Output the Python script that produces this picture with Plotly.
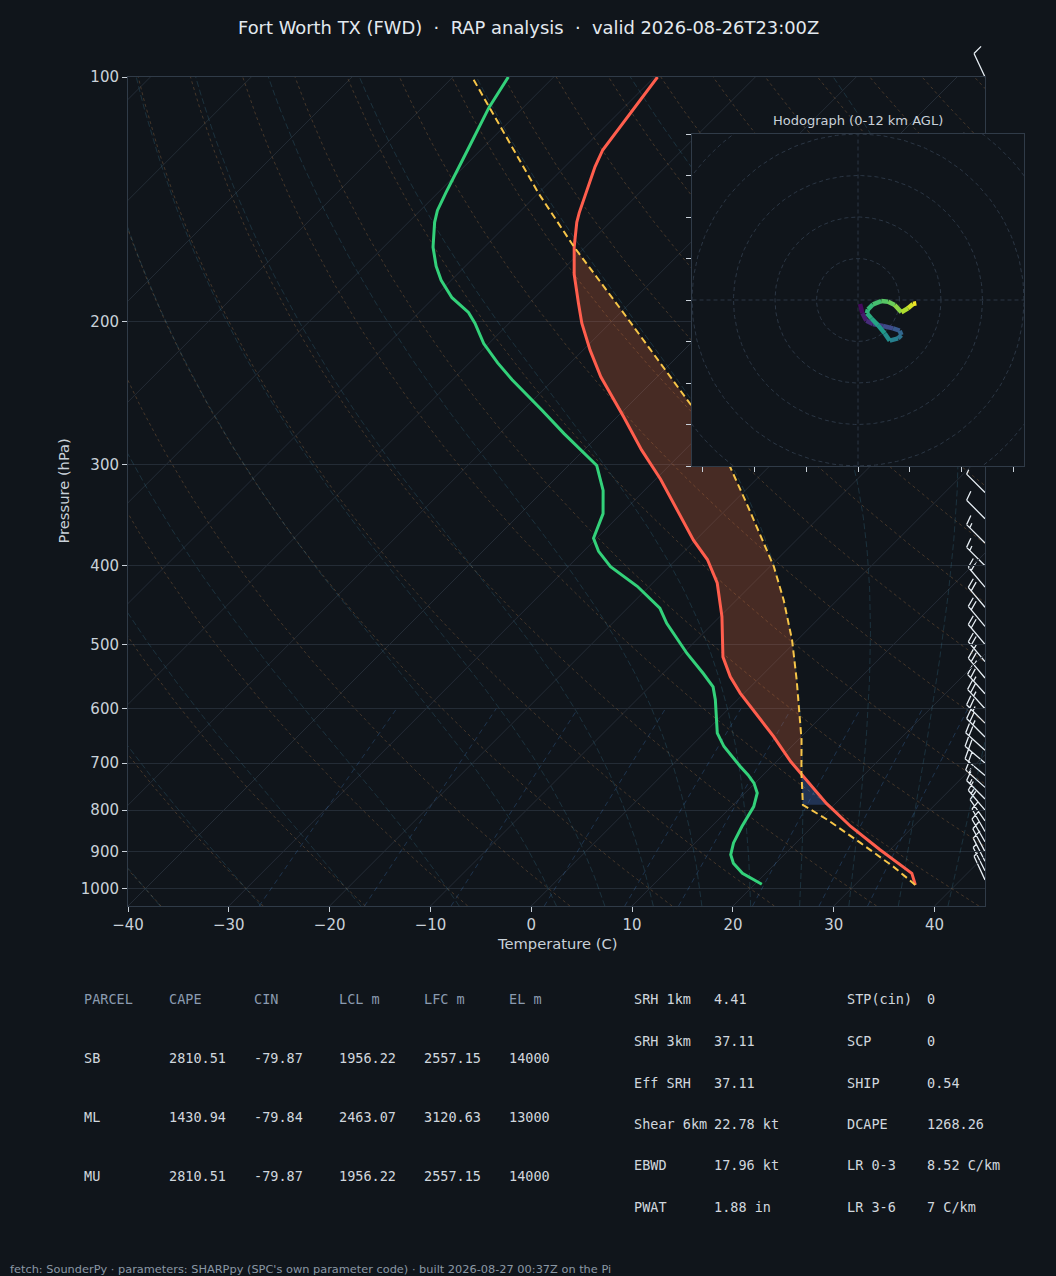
import numpy as np
import plotly.graph_objects as go
from plotly.colors import sample_colorscale

# ---------------- text ----------------
TITLE = ("Fort Worth TX (FWD)\u00a0\u00a0·\u00a0\u00a0RAP analysis"
         "\u00a0\u00a0·\u00a0\u00a0valid 2026-08-26T23:00Z")
HODO_TITLE = "Hodograph (0-12 km AGL)"
X_TITLE = "Temperature (C)"
Y_TITLE = "Pressure (hPa)"
FOOTNOTE = ("fetch: SounderPy · parameters: SHARPpy (SPC's own parameter code)"
            " · built 2026-08-27 00:37Z on the Pi")

# ---------------- sounding ----------------
P_TEMP = [989, 957, 895, 838, 785, 720, 697, 649, 602, 574, 548, 518, 462, 420,
          393, 372, 313, 288, 262, 234, 217, 201, 190, 175, 162, 151, 147, 129, 123, 100]
T_TEMP = [36.0, 34.5, 29.0, 23.8, 19.1, 13.5, 11.4, 7.2, 2.6, -0.4, -3.0, -5.7, -9.8, -13.6,
          -16.9, -20.2, -29.5, -34.3, -39.4, -45.6, -49.3, -52.8, -55.1, -58.4, -61.1, -63.3,
          -64.0, -67.0, -67.9, -69.7]

P_DEW = [987, 957, 930, 908, 878, 838, 792, 762, 741, 724, 707, 668, 643, 585, 564, 543,
         513, 471, 451, 424, 401, 384, 370, 358, 345, 323, 301, 275, 257, 236, 225, 213,
         201, 195, 187, 178, 171, 162, 151, 146, 139, 123, 109, 100]
T_DEW = [20.7, 17.7, 15.8, 14.7, 13.8, 13.0, 12.2, 11.2, 9.9, 8.5, 6.9, 3.3, 1.3, -2.2, -3.7,
         -6.0, -9.6, -14.6, -16.8, -21.2, -25.8, -28.5, -30.3, -31.0, -31.8, -34.1, -37.2,
         -43.6, -48.2, -54.1, -57.2, -60.5, -63.4, -65.1, -68.2, -71.0, -72.9, -75.1, -77.4,
         -78.3, -79.2, -81.3, -83.4, -84.5]

P_PARCEL = [989, 939, 878, 822, 788, 720, 655, 608, 553, 494, 441, 401, 365, 335, 303,
            255, 192, 162, 139, 109, 100]
T_PARCEL = [36.0, 32.0, 26.4, 20.8, 16.9, 13.6, 10.3, 7.5, 3.9, -0.5, -5.3, -9.6, -14.3,
            -18.6, -23.7, -33.5, -50.7, -61.1, -70.0, -83.4, -88.1]
P_LCL = 788

# wind barbs (kt, deg from)
P_WIND = [100, 125, 150, 175, 200, 225, 250, 275, 300, 325, 350, 375, 400, 425, 450, 475,
          500, 525, 550, 575, 600, 625, 650, 675, 700, 725, 750, 775, 800, 825, 850, 875,
          900, 925, 950, 975]
WSPD_KT = [10, 15, 20, 25, 25, 25, 20, 15, 10, 5, 10, 15, 15, 20, 20, 20, 20, 25, 25, 25,
           25, 25, 25, 20, 20, 20, 15, 15, 15, 10, 10, 10, 10, 10, 5, 5]
WDIR_DEG = [335, 300, 290, 285, 280, 285, 290, 285, 280, 315, 315, 315, 315, 320, 320, 320,
            320, 320, 320, 318, 318, 315, 315, 312, 310, 310, 312, 315, 320, 325, 330, 330,
            332, 333, 333, 335]

# hodograph (u, v in kt, height km AGL)
HODO_U = [1.0, 2.1, 4.0, 7.2, 12.0, 16.9, 20.1, 20.9, 19.3, 15.3, 12.9, 9.6, 6.4, 4.3,
          4.8, 7.2, 11.2, 14.5, 17.7, 20.9, 24.1, 26.5, 28.1]
HODO_V = [-1.9, -6.4, -10.0, -11.6, -12.5, -13.7, -14.8, -16.9, -18.5, -19.6, -16.1, -12.1,
          -8.8, -6.4, -4.5, -2.1, -0.5, -0.8, -2.4, -5.9, -4.0, -1.9, -1.6]
HODO_Z = [0.0, 0.6, 1.2, 1.8, 2.4, 3.0, 3.6, 4.2, 4.8, 5.6, 6.2, 6.8, 7.2, 7.6, 7.9, 8.2,
          8.6, 9.0, 9.5, 10.2, 10.9, 11.5, 12.0]
HODO_RINGS = [20, 40, 60, 80, 100]
HODO_XTICKS = [-75, -50, -25, 0, 25, 50, 75]
HODO_YTICKS = [-80, -60, -40, -20, 0, 20, 40, 60, 80]

PRESSURE_TICKS = [100, 200, 300, 400, 500, 600, 700, 800, 900, 1000]
TEMP_TICKS = [-40, -30, -20, -10, 0, 10, 20, 30, 40]

# parameter tables
TABLE_HEAD = ["PARCEL", "CAPE", "CIN", "LCL m", "LFC m", "EL m"]
PARCELS = ["SB", "ML", "MU"]
CAPE = [2810.51, 1430.94, 2810.51]
CIN = [-79.87, -79.84, -79.87]
LCL_M = [1956.22, 2463.07, 1956.22]
LFC_M = [2557.15, 3120.63, 2557.15]
EL_M = [14000, 13000, 14000]

IDX1_NAMES = ["SRH 1km", "SRH 3km", "Eff SRH", "Shear 6km", "EBWD", "PWAT"]
IDX1_VALS = ["4.41", "37.11", "37.11", "22.78 kt", "17.96 kt", "1.88 in"]
IDX2_NAMES = ["STP(cin)", "SCP", "SHIP", "DCAPE", "LR 0-3", "LR 3-6"]
IDX2_VALS = ["0", "0", "0.54", "1268.26", "8.52 C/km", "7 C/km"]

# ---------------- geometry / style ----------------
FIG_W, FIG_H = 1056, 1276
AX_L, AX_R, AX_T, AX_B = 128, 985, 77, 906
HX_L, HX_R, HX_T, HX_B = 692, 1024, 134, 466
XMIN, XMAX = -40, 45
PBOT, PTOP = 1050.0, 100.0

W_PX = AX_R - AX_L
H_PX = AX_B - AX_T
DEC = np.log10(PBOT) - np.log10(PTOP)
K = (H_PX / DEC) / (W_PX / (XMAX - XMIN))   # 45 degree skew

BG = "#10151b"
GRID = "#242c36"
SPINE = "#303b48"
TXT = "#c9d1d9"
TXT_HI = "#e3e9ef"
HEAD_C = "#8b9bb0"
VAL_C = "#d0d7de"
FOOT_C = "#8b98a5"


def fx(px):
    return px / FIG_W


def fy(py):
    return 1 - py / FIG_H


def skew(T, p):
    return np.asarray(T, float) + K * np.log10(PBOT / np.asarray(p, float))


def ypix(p):
    return AX_T + (np.log10(p) - np.log10(PTOP)) / DEC * H_PX


fig = go.Figure()


def add_lines(curves, color, width=1.0, dash="solid", xa="x", ya="y"):
    xs, ys = [], []
    for x, y in curves:
        xs += list(x) + [None]
        ys += list(y) + [None]
    fig.add_trace(go.Scatter(x=xs, y=ys, mode="lines", xaxis=xa, yaxis=ya,
                             line=dict(color=color, width=width, dash=dash),
                             hoverinfo="skip", showlegend=False))


# ---------------- thermodynamic background ----------------
RD, CP, LV, EPS = 287.04, 1005.7, 2.501e6, 0.622
p_bg = np.geomspace(PBOT, PTOP, 120)

# isotherms
add_lines([(skew([t, t], [PBOT, PTOP]), [PBOT, PTOP]) for t in range(-130, 50, 10)],
          GRID, 1.0)

# dry adiabats
dry = []
for th in np.arange(-40, 246, 10):
    T = (th + 273.15) * (p_bg / 1000.0) ** (RD / CP) - 273.15
    dry.append((skew(T, p_bg), p_bg))
add_lines(dry, "rgba(205,140,80,0.28)", 1.0, "3px,3px")


def sat_vp(Tk):
    Tc = Tk - 273.15
    return 6.112 * np.exp(17.67 * Tc / (Tc + 243.5))


def dTdp(p, Tk):
    es = sat_vp(Tk)
    rs = EPS * es / (p - es)
    num = RD * Tk + LV * rs
    den = CP + LV * LV * rs * EPS / (RD * Tk * Tk)
    return num / den / p


def rk4(T0, ps):
    T = np.array(T0, float)
    out = [T.copy()]
    for i in range(len(ps) - 1):
        h = ps[i + 1] - ps[i]
        p = ps[i]
        k1 = dTdp(p, T)
        k2 = dTdp(p + h / 2, T + h / 2 * k1)
        k3 = dTdp(p + h / 2, T + h / 2 * k2)
        k4 = dTdp(p + h, T + h * k3)
        T = T + h / 6 * (k1 + 2 * k2 + 2 * k3 + k4)
        out.append(T.copy())
    return np.array(out)


moist_t0 = np.concatenate((np.arange(-40, 0, 10), np.arange(0, 51, 5))) + 273.15
ps_up = np.linspace(1000, PTOP, 181)
ps_dn = np.linspace(1000, PBOT, 11)
T_up = rk4(moist_t0, ps_up)
T_dn = rk4(moist_t0, ps_dn)
p_moist = np.concatenate((ps_dn[::-1], ps_up[1:]))
moist = []
for j in range(len(moist_t0)):
    Tm = np.concatenate((T_dn[::-1, j], T_up[1:, j])) - 273.15
    moist.append((skew(Tm, p_moist), p_moist))
add_lines(moist, "rgba(70,150,180,0.22)", 1.0, "6px,3px")

# mixing ratio lines (g/kg)
W_MIX = [0.4, 1, 2, 4, 7, 10, 16, 24, 32]
p_mix = np.linspace(PBOT, 600, 40)
mix = []
for w in W_MIX:
    wk = w / 1000.0
    e = p_mix * wk / (EPS + wk)
    lg = np.log(e / 6.112)
    Td = 243.5 * lg / (17.67 - lg)
    mix.append((skew(Td, p_mix), p_mix))
add_lines(mix, "rgba(70,140,220,0.26)", 1.0, "5px,4px")

# ---------------- CAPE / CIN shading ----------------
def interp_logp(p_src, t_src, p_new):
    lp = np.log(np.asarray(p_src, float)[::-1])
    tt = np.asarray(t_src, float)[::-1]
    return np.interp(np.log(p_new), lp, tt)


pf = np.geomspace(P_LCL, PTOP, 800)
te = interp_logp(P_TEMP, T_TEMP, pf)
tp = interp_logp(P_PARCEL, T_PARCEL, pf)
pos = tp > te
i_lfc = int(np.argmax(pos))
rest = ~pos[i_lfc:]
i_el = i_lfc + (int(np.argmax(rest)) if rest.any() else len(rest))

pc = pf[i_lfc:i_el + 1]
cx = np.concatenate((skew(np.maximum(tp[i_lfc:i_el + 1], te[i_lfc:i_el + 1]), pc),
                     skew(te[i_lfc:i_el + 1], pc)[::-1]))
cy = np.concatenate((pc, pc[::-1]))
fig.add_trace(go.Scatter(x=cx, y=cy, mode="lines", fill="toself",
                         fillcolor="rgba(230,110,60,0.26)", line=dict(width=0),
                         hoverinfo="skip", showlegend=False))

pn = pf[:i_lfc + 1]
nx = np.concatenate((skew(np.minimum(tp[:i_lfc + 1], te[:i_lfc + 1]), pn),
                     skew(te[:i_lfc + 1], pn)[::-1]))
ny = np.concatenate((pn, pn[::-1]))
fig.add_trace(go.Scatter(x=nx, y=ny, mode="lines", fill="toself",
                         fillcolor="rgba(80,130,230,0.28)", line=dict(width=0),
                         hoverinfo="skip", showlegend=False))

# ---------------- profiles ----------------
fig.add_trace(go.Scatter(x=skew(T_TEMP, P_TEMP), y=P_TEMP, mode="lines",
                         line=dict(color="#ff5e4d", width=3), showlegend=False))
fig.add_trace(go.Scatter(x=skew(T_DEW, P_DEW), y=P_DEW, mode="lines",
                         line=dict(color="#33d17a", width=3), showlegend=False))
fig.add_trace(go.Scatter(x=skew(T_PARCEL, P_PARCEL), y=P_PARCEL, mode="lines",
                         line=dict(color="#f7c548", width=2, dash="7px,4px"),
                         showlegend=False))

# ---------------- hodograph inset ----------------
th = np.linspace(0, 2 * np.pi, 241)
add_lines([(r * np.cos(th), r * np.sin(th)) for r in HODO_RINGS], "#2b3644", 1.0,
          "4px,3px", "x2", "y2")
add_lines([([-100, 100], [0, 0]), ([0, 0], [-100, 100])], "#2b3644", 1.0, "4px,3px",
          "x2", "y2")
zmax = max(HODO_Z)
fracs = [(HODO_Z[i] + HODO_Z[i + 1]) / 2 / zmax for i in range(len(HODO_Z) - 1)]
seg_cols = sample_colorscale("Viridis", fracs)
for i in range(len(HODO_U) - 1):
    fig.add_trace(go.Scatter(x=[HODO_U[i], HODO_U[i + 1]], y=[HODO_V[i], HODO_V[i + 1]],
                             mode="lines", xaxis="x2", yaxis="y2",
                             line=dict(color=seg_cols[i], width=4.5),
                             hoverinfo="skip", showlegend=False))

# ---------------- wind barbs (drawn in figure pixels) ----------------
L_STAFF, FEATH, SPACE = 26.0, 10.0, 4.5
TILT = np.deg2rad(20)


def P(x, y):
    return f"{fx(x):.5f},{fy(y):.5f}"


path = []
for p, spd, wd in zip(P_WIND, WSPD_KT, WDIR_DEG):
    bx, by = AX_R, ypix(p)
    d = np.deg2rad(wd)
    ux, uy = np.sin(d), -np.cos(d)
    px_, py_ = -uy, ux
    fvx = px_ * np.cos(TILT) + ux * np.sin(TILT)
    fvy = py_ * np.cos(TILT) + uy * np.sin(TILT)
    tx, ty = bx + L_STAFF * ux, by + L_STAFF * uy
    path.append(f"M{P(bx, by)}L{P(tx, ty)}")
    s5 = int(5 * round(spd / 5.0))
    nflag, nfull, nhalf = s5 // 50, (s5 % 50) // 10, (s5 % 10) // 5
    dist = 0.0
    for _ in range(nflag):
        sx, sy = tx - dist * ux, ty - dist * uy
        ex, ey = sx + FEATH * fvx, sy + FEATH * fvy
        s2x, s2y = tx - (dist + 2 * SPACE) * ux, ty - (dist + 2 * SPACE) * uy
        path.append(f"M{P(sx, sy)}L{P(ex, ey)}L{P(s2x, s2y)}")
        dist += 2.5 * SPACE
    for _ in range(nfull):
        sx, sy = tx - dist * ux, ty - dist * uy
        path.append(f"M{P(sx, sy)}L{P(sx + FEATH * fvx, sy + FEATH * fvy)}")
        dist += SPACE
    for _ in range(nhalf):
        sx, sy = tx - dist * ux, ty - dist * uy
        path.append(f"M{P(sx, sy)}L{P(sx + 0.5 * FEATH * fvx, sy + 0.5 * FEATH * fvy)}")

shapes = [dict(type="path", path="".join(path), xref="paper", yref="paper",
               line=dict(color="#e6edf3", width=1.3), layer="below")]

# ---------------- annotations ----------------
ann = []


def text(x, y, s, size, color, family="DejaVu Sans", xanchor="left", angle=0):
    ann.append(dict(x=fx(x), y=fy(y), xref="paper", yref="paper", text=s,
                    showarrow=False, xanchor=xanchor, yanchor="middle", textangle=angle,
                    borderpad=0, borderwidth=0,
                    font=dict(size=size, color=color, family=family)))


text(528, 27, TITLE, 17.9, TXT_HI, xanchor="center")
text((AX_L + AX_R) / 2, 943, X_TITLE, 14.7, TXT, xanchor="center")
text(63, (AX_T + AX_B) / 2, Y_TITLE, 14.7, TXT, xanchor="center", angle=-90)
text((HX_L + HX_R) / 2, 120, HODO_TITLE, 13, TXT, xanchor="center")
text(10, 1269, FOOTNOTE, 11.35, FOOT_C)

MONO = "DejaVu Sans Mono"
col_x = [84, 169, 254, 339, 424, 509]
row_y = [1058, 1117, 1176]
for cx_, h in zip(col_x, TABLE_HEAD):
    text(cx_, 999, h, 13.5, HEAD_C, MONO)
for r, yv in enumerate(row_y):
    cells = [PARCELS[r], str(CAPE[r]), str(CIN[r]), str(LCL_M[r]), str(LFC_M[r]),
             str(EL_M[r])]
    for cx_, c in zip(col_x, cells):
        text(cx_, yv, c, 13.5, VAL_C, MONO)

idx_y = [999, 1041, 1083, 1124, 1165, 1207]
for yv, n1, v1, n2, v2 in zip(idx_y, IDX1_NAMES, IDX1_VALS, IDX2_NAMES, IDX2_VALS):
    text(634, yv, n1, 13.5, VAL_C, MONO)
    text(714, yv, v1, 13.5, VAL_C, MONO)
    text(847, yv, n2, 13.5, VAL_C, MONO)
    text(927, yv, v2, 13.5, VAL_C, MONO)

# ---------------- layout ----------------
axis_common = dict(showline=True, mirror=True, linecolor=SPINE, linewidth=1,
                   zeroline=False, ticks="outside", ticklen=5, tickwidth=1,
                   tickcolor=TXT, automargin=False)
fig.update_layout(
    width=FIG_W, height=FIG_H,
    margin=dict(l=0, r=0, t=0, b=0, pad=0, autoexpand=False),
    paper_bgcolor=BG, plot_bgcolor=BG, showlegend=False,
    font=dict(family="DejaVu Sans", color=TXT),
    xaxis=dict(domain=[fx(AX_L), fx(AX_R)], range=[XMIN, XMAX], tickvals=TEMP_TICKS,
               showgrid=False, anchor="y", tickfont=dict(size=15, color=TXT),
               **axis_common),
    yaxis=dict(domain=[fy(AX_B), fy(AX_T)], type="log",
               range=[np.log10(PBOT), np.log10(PTOP)], tickvals=PRESSURE_TICKS,
               ticktext=[str(v) for v in PRESSURE_TICKS], showgrid=True,
               gridcolor=GRID, gridwidth=1, anchor="x",
               tickfont=dict(size=15, color=TXT), **axis_common),
    xaxis2=dict(domain=[fx(HX_L), fx(HX_R)], range=[-80, 80], tickvals=HODO_XTICKS,
                showticklabels=False, showgrid=False, anchor="y2", **axis_common),
    yaxis2=dict(domain=[fy(HX_B), fy(HX_T)], range=[-80, 80], tickvals=HODO_YTICKS,
                showticklabels=False, showgrid=False, anchor="x2", **axis_common),
    shapes=shapes,
    annotations=ann,
)

fig.write_html("out.html", config={"displayModeBar": False},
               post_script="document.body.style.margin='0px';")
